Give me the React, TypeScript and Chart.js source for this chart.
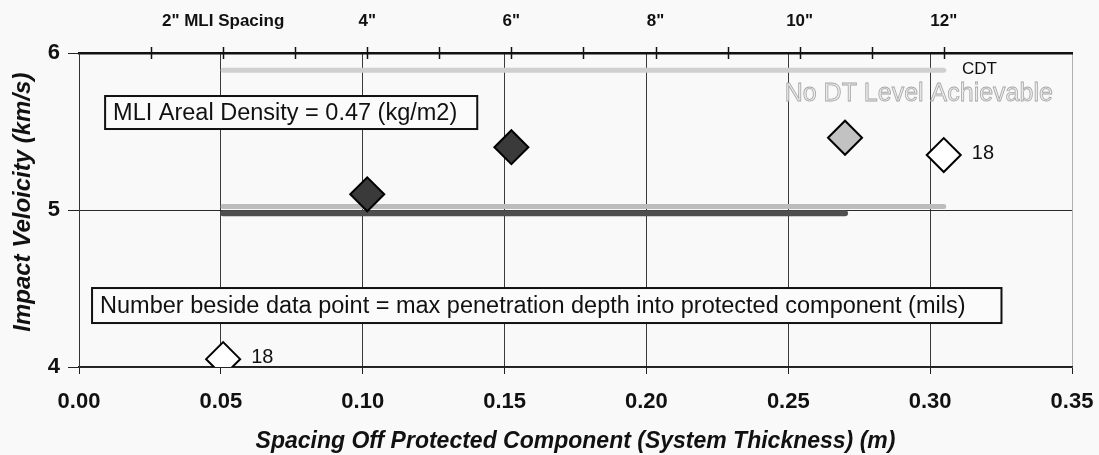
import React, { useEffect, useRef } from "react";
import { Chart, registerables } from "chart.js";

Chart.register(...registerables);

// ---- data ----
const xTickValues = [0, 0.05, 0.1, 0.15, 0.2, 0.25, 0.3, 0.35];
const yTickValues = [4, 5, 6];
const topInchTicks = [1, 2, 3, 4, 5, 6, 7, 8, 9, 10, 11, 12];
const topInchLabels = ["", '2" MLI Spacing', "", '4"', "", '6"', "", '8"', "", '10"', "", '12"'];

const darkX = [0.1016, 0.1524];
const darkY = [5.1, 5.4];
const grayX = [0.27];
const grayY = [5.46];
const whiteX = [0.0508, 0.3048];
const whiteY = [4.05, 5.35];
const whiteDepth = [18, 18];

const cdtX = [0.0508, 0.3048];
const cdtY = [5.89, 5.89];
const lightBandX = [0.0508, 0.3048];
const lightBandY = [5.022, 5.022];
const darkBandX = [0.0508, 0.27];
const darkBandY = [4.98, 4.98];

const densityText = "MLI Areal Density = 0.47 (kg/m2)";
const noteText = "Number beside data point = max penetration depth into protected component (mils)";
const cdtText = "CDT";
const noDtText = "No DT Level Achievable";
const yTitle = "Impact Veloicity (km/s)";
const xTitle = "Spacing Off Protected Component (System Thickness) (m)";

const pts = (xs: number[], ys: number[]) => xs.map((x, i) => ({ x, y: ys[i] }));

const FONT = "'Liberation Sans', Arial, sans-serif";

const annotations = {
  id: "annotations",
  beforeDraw(chart: any) {
    const { ctx } = chart;
    ctx.save();
    ctx.fillStyle = "#f9f9f9";
    ctx.fillRect(0, 0, chart.width, chart.height);
    ctx.restore();
  },
  afterDatasetsDraw(chart: any) {
    const { ctx, scales } = chart;
    const xs = scales.x, ys = scales.y, x2 = scales.x2;
    ctx.save();

    // top axis crossing ticks
    ctx.strokeStyle = "#111";
    ctx.lineWidth = 1.5;
    const top = chart.chartArea.top;
    topInchTicks.forEach((v) => {
      const px = Math.round(x2.getPixelForValue(v)) + 0.5;
      ctx.beginPath();
      ctx.moveTo(px, top - 6);
      ctx.lineTo(px, top + 6);
      ctx.stroke();
    });

    // y axis title (rotated)
    ctx.save();
    ctx.translate(23, ys.getPixelForValue(5.05));
    ctx.rotate(-Math.PI / 2);
    ctx.font = `italic bold 24px ${FONT}`;
    ctx.fillStyle = "#111";
    ctx.textAlign = "center";
    ctx.textBaseline = "middle";
    ctx.fillText(yTitle, 0, 0);
    ctx.restore();

    // text boxes
    const box = (text: string, xv: number, yv: number, h: number, padL: number, padR: number) => {
      ctx.font = `23.5px ${FONT}`;
      const w = ctx.measureText(text).width + padL + padR;
      const bx = xs.getPixelForValue(xv);
      const by = ys.getPixelForValue(yv);
      ctx.fillStyle = "#fbfbfb";
      ctx.fillRect(bx, by, w, h);
      ctx.strokeStyle = "#111";
      ctx.lineWidth = 2;
      ctx.strokeRect(bx, by, w, h);
      ctx.fillStyle = "#111";
      ctx.textAlign = "left";
      ctx.textBaseline = "middle";
      ctx.fillText(text, bx + padL, by + h / 2 + 1);
    };
    box(densityText, 0.0092, 5.726, 33, 8, 20);
    box(noteText, 0.0046, 4.503, 35, 8, 36);

    // CDT label
    ctx.font = `17px ${FONT}`;
    ctx.fillStyle = "#111";
    ctx.textAlign = "left";
    ctx.textBaseline = "middle";
    ctx.fillText(cdtText, xs.getPixelForValue(0.3112), ys.getPixelForValue(5.898));

    // No DT Level Achievable (hollow gray)
    ctx.font = `25px ${FONT}`;
    ctx.textAlign = "center";
    const nx = xs.getPixelForValue(0.296);
    const ny = ys.getPixelForValue(5.735);
    ctx.fillStyle = "#ececec";
    ctx.fillText(noDtText, nx, ny);
    ctx.strokeStyle = "#a8a8a8";
    ctx.lineWidth = 0.8;
    ctx.strokeText(noDtText, nx, ny);

    // depth labels beside white diamonds
    const meta = chart.getDatasetMeta(2);
    ctx.font = `20px ${FONT}`;
    ctx.textAlign = "left";
    meta.data.forEach((el: any, i: number) => {
      const t = String(whiteDepth[i]);
      const tw = ctx.measureText(t).width;
      const lx = el.x + 28;
      const ly = el.y - 2;
      ctx.fillStyle = "#f9f9f9";
      ctx.fillRect(lx - 9, ly - 8, tw + 14, 16);
      ctx.fillStyle = "#111";
      ctx.fillText(t, lx, ly);
    });
    ctx.restore();
  },
};

export default function App() {
  const ref = useRef<HTMLCanvasElement | null>(null);
  useEffect(() => {
    if (!ref.current) return;
    const diamond = (data: any, bg: string) => ({
      type: "scatter" as const,
      data,
      pointStyle: "rectRot",
      pointRadius: 17,
      pointHoverRadius: 17,
      pointBackgroundColor: bg,
      pointBorderColor: "#000",
      pointBorderWidth: 2,
      showLine: false,
    });
    const band = (data: any, color: string, w: number) => ({
      type: "line" as const,
      data,
      borderColor: color,
      borderWidth: w,
      borderCapStyle: "round",
      pointRadius: 0,
      fill: false,
      showLine: true,
    });
    const chart = new Chart(ref.current, {
      type: "scatter",
      data: {
        datasets: [
          diamond(pts(darkX, darkY), "#3a3a3a"),
          diamond(pts(grayX, grayY), "#c2c2c2"),
          diamond(pts(whiteX, whiteY), "#ffffff"),
          band(pts(cdtX, cdtY), "#d0d0d0", 5),
          band(pts(lightBandX, lightBandY), "#bcbcbc", 5),
          band(pts(darkBandX, darkBandY), "#4e4e4e", 6),
        ] as any,
      },
      options: {
        animation: false,
        responsive: false,
        devicePixelRatio: 1,
        layout: { padding: { left: 0, right: 27, top: 0, bottom: 0 } },
        plugins: { legend: { display: false }, tooltip: { enabled: false } },
        events: [],
        scales: {
          x: {
            type: "linear",
            position: "bottom",
            min: 0,
            max: 0.35,
            afterBuildTicks: (s: any) => {
              s.ticks = xTickValues.map((v) => ({ value: v }));
            },
            afterFit: (s: any) => {
              s.height = 88;
              s.paddingLeft = 0;
              s.paddingRight = 0;
            },
            ticks: {
              callback: (v: any) => Number(v).toFixed(2),
              font: { family: FONT, size: 22, weight: "bold" },
              color: "#111",
              padding: 15,
              maxRotation: 0,
              autoSkip: false,
            },
            grid: {
              color: (c: any) => (c.tick && c.tick.value === 0.35 ? "#b0b0b0" : "#3a3a3a"),
              lineWidth: 1,
              tickLength: 7,
              tickColor: "#222",
            },
            border: { display: true, color: "#222", width: 1.5 },
            title: {
              display: true,
              text: xTitle,
              font: { family: FONT, size: 23, weight: "bold", style: "italic" },
              color: "#111",
              padding: { top: 0, bottom: 0 },
            },
          },
          x2: {
            type: "linear",
            position: "top",
            min: 0,
            max: 0.35 / 0.0254,
            afterBuildTicks: (s: any) => {
              s.ticks = topInchTicks.map((v) => ({ value: v }));
            },
            afterFit: (s: any) => {
              s.height = 53;
              s.paddingLeft = 0;
              s.paddingRight = 0;
            },
            ticks: {
              callback: (_v: any, i: number) => topInchLabels[i],
              font: { family: FONT, size: 17, weight: "bold" },
              color: "#111",
              padding: 21,
              maxRotation: 0,
              autoSkip: false,
            },
            grid: { drawOnChartArea: false, drawTicks: false },
            border: { display: true, color: "#111", width: 2.5 },
          },
          y: {
            type: "linear",
            min: 4,
            max: 6,
            afterBuildTicks: (s: any) => {
              s.ticks = yTickValues.map((v) => ({ value: v }));
            },
            afterFit: (s: any) => {
              s.width = 79;
            },
            ticks: {
              font: { family: FONT, size: 22, weight: "bold" },
              color: "#111",
              padding: 8,
            },
            grid: { color: "#2a2a2a", lineWidth: 1, tickLength: 11, tickColor: "#222" },
            border: { display: true, color: "#333", width: 1 },
            title: { display: false },
          },
        },
      } as any,
      plugins: [annotations],
    });
    return () => chart.destroy();
  }, []);
  return (
    <div style={{ position: "fixed", left: 0, top: 0, width: 1099, height: 455 }}>
      <canvas ref={ref} width={1099} height={455} style={{ width: 1099, height: 455 }} />
    </div>
  );
}
